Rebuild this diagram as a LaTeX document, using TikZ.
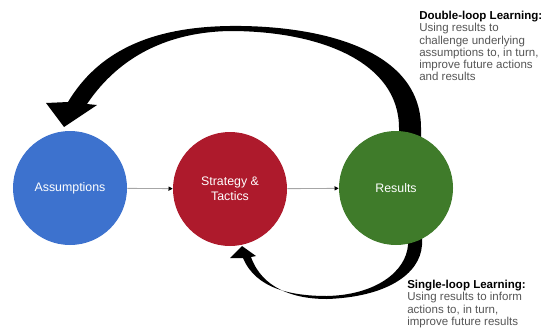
\documentclass[tikz,border=0pt]{standalone}
\usepackage{fontspec}
\setmainfont{Liberation Sans}
\usepackage{xcolor}
\definecolor{assumblue}{HTML}{3D72CE}
\definecolor{stratred}{HTML}{AE1A2C}
\definecolor{resgreen}{HTML}{3F7B2A}
\definecolor{notegray}{HTML}{555555}
\usetikzlibrary{arrows.meta, backgrounds}

\begin{document}
\begin{tikzpicture}[
  x=0.25mm, y=-0.25mm,
  stage/.style={circle, minimum size=28.5mm, inner sep=0pt, text=white, align=center, font=\fontsize{8.8}{11}\selectfont},
  assum/.style={stage, fill=assumblue},
  strat/.style={stage, fill=stratred},
  res/.style={stage, fill=resgreen},
  flow/.style={-{Triangle[length=3pt, width=3pt, color=black]}, draw=gray!70, line width=0.6pt},
  loopband/.style={fill=black},
  note/.style={anchor=north west, inner sep=0pt, align=left, text=notegray, font=\fontsize{8.2}{8.7}\selectfont},
]

\useasboundingbox (0,0) rectangle (543,332);

% Stages
\node[assum] (assumptions) at (70,188) {Assumptions};
\node[strat] (strategy) at (230,189) {Strategy \&\\Tactics};
\node[res] (results) at (396,188) {Results};

% Straight flow
\draw[flow] (assumptions) -- (strategy);
\draw[flow] (strategy) -- (results);

% Loops (tapered bands, behind the circles)
\begin{scope}[on background layer]
% double loop
\fill[loopband] (421,150) -- (421,128) .. controls (421,45) and (310,25) .. (230,26)
  .. controls (150,27) and (98,52) .. (68,102)
  -- (46,103) -- (64,127) -- (97,105) -- (87,104)
  .. controls (120,55) and (170,32) .. (230,31)
  .. controls (320,31) and (399,62) .. (399,128) -- (399,150) -- cycle;
% single loop
\fill[loopband] (422,230) -- (422,245) .. controls (420,275) and (385,297) .. (327,299)
  .. controls (293,299) and (262,288) .. (251,257)
  -- (256,256) -- (242,246) -- (230,258) -- (243,258)
  .. controls (256,289) and (292,296) .. (327,296)
  .. controls (375,295) and (406,272) .. (408,245) -- (408,230) -- cycle;
\end{scope}

% Notes
\node[note] (doublenote) at (419,11) {\textbf{\color{black}Double-loop Learning:}\\Using results to\\challenge underlying\\assumptions to, in turn,\\improve future actions\\and results};
\node[note] (singlenote) at (407,280) {\textbf{\color{black}Single-loop Learning:}\\Using results to inform\\actions to, in turn,\\improve future results};

\end{tikzpicture}
\end{document}
